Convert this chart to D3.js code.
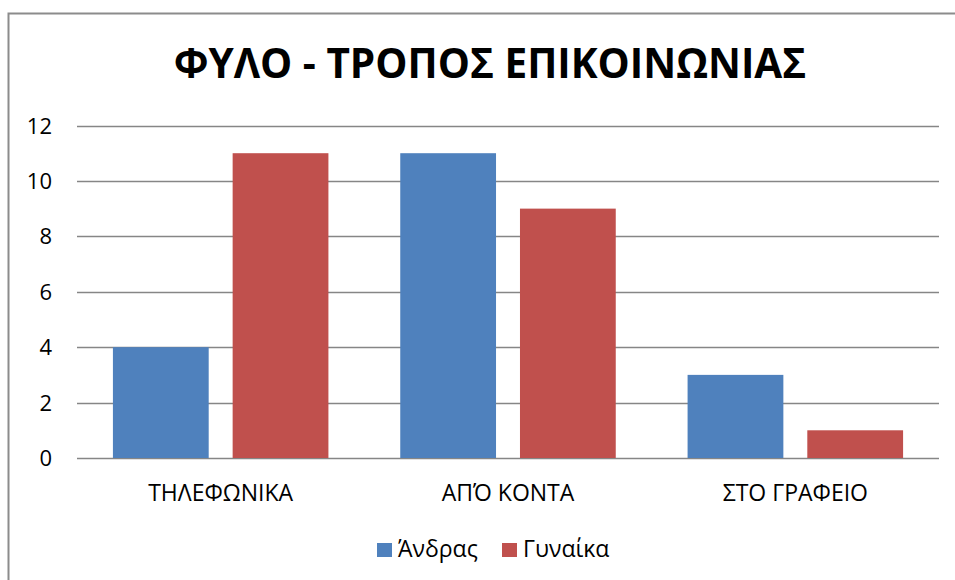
<!DOCTYPE html>
<html lang="el">
<head>
<meta charset="UTF-8">
<title>ΦΥΛΟ - ΤΡΟΠΟΣ ΕΠΙΚΟΙΝΩΝΙΑΣ</title>
<script src="https://d3js.org/d3.v7.min.js"></script>
<style>
    body { margin: 0; background: #fff; }
    svg { display: block; font-family: "Open Sans", "Noto Sans", sans-serif; }
    .grid line { stroke: #868686; stroke-width: 1.5px; }
    .tick-label { font-size: 22px; fill: #000; }
    .cat-label { font-size: 23px; fill: #000; }
    .legend-label { font-size: 23px; fill: #000; }
</style>
</head>
<body>
<svg id="chart"></svg>
<script>
    // Data
    const categories = ["ΤΗΛΕΦΩΝΙΚΑ", "ΑΠΌ ΚΟΝΤΑ", "ΣΤΟ ΓΡΑΦΕΙΟ"];
    const seriesNames = ["Άνδρας", "Γυναίκα"];
    const andras = [4, 11, 3];
    const gynaika = [11, 9, 1];
    const yTicks = [0, 2, 4, 6, 8, 10, 12];
    const colors = ["#4F81BD", "#C0504D"];
    const title = "ΦΥΛΟ - ΤΡΟΠΟΣ ΕΠΙΚΟΙΝΩΝΙΑΣ";

    const width = 955, height = 580;
    const svg = d3.select("#chart").attr("width", width).attr("height", height);

    // outer chart border (only top and left visible in the frame)
    svg.append("rect")
        .attr("x", 8.5).attr("y", 13.5)
        .attr("width", 960).attr("height", 600)
        .attr("fill", "none")
        .attr("stroke", "#8c8c8c")
        .attr("stroke-width", 2);

    const plot = { left: 77, right: 939, top: 125.5, bottom: 458 };

    const xCat = d3.scaleBand().domain(categories).range([plot.left, plot.right]).padding(0);
    const band = xCat.bandwidth();
    const x1 = d3.scaleBand()
        .domain(seriesNames)
        .range([band * 0.125, band * 0.875])
        .paddingInner(0.2);

    const y = d3.scaleLinear().domain([0, 12]).range([plot.bottom, plot.top]);

    // gridlines
    svg.append("g").attr("class", "grid")
        .selectAll("line")
        .data(yTicks)
        .join("line")
        .attr("x1", plot.left).attr("x2", plot.right)
        .attr("y1", d => Math.round(y(d)) + 0.5)
        .attr("y2", d => Math.round(y(d)) + 0.5);

    // tick labels
    svg.append("g")
        .selectAll("text")
        .data(yTicks)
        .join("text")
        .attr("class", "tick-label")
        .attr("x", 52)
        .attr("y", d => y(d) + 8)
        .attr("text-anchor", "end")
        .text(d => d);

    // bars
    const rows = categories.map((c, i) => ({ cat: c, values: [andras[i], gynaika[i]] }));
    const groups = svg.append("g")
        .selectAll("g")
        .data(rows)
        .join("g")
        .attr("transform", d => `translate(${xCat(d.cat)},0)`);

    groups.selectAll("rect")
        .data(d => d.values.map((v, j) => ({ name: seriesNames[j], value: v, j })))
        .join("rect")
        .attr("x", d => x1(d.name))
        .attr("width", x1.bandwidth())
        .attr("y", d => y(d.value))
        .attr("height", d => y(0) - y(d.value))
        .attr("fill", d => colors[d.j]);

    // category labels
    svg.append("g")
        .selectAll("text")
        .data(categories)
        .join("text")
        .attr("class", "cat-label")
        .attr("x", d => xCat(d) + band / 2)
        .attr("y", 501)
        .attr("text-anchor", "middle")
        .text(d => d);

    // title
    svg.append("text")
        .attr("x", 490)
        .attr("y", 78)
        .attr("text-anchor", "middle")
        .attr("font-size", 40.5)
        .attr("font-weight", "bold")
        .text(title);

    // legend
    const legendX = [377, 502];
    const legend = svg.append("g")
        .selectAll("g")
        .data(seriesNames)
        .join("g")
        .attr("transform", (d, i) => `translate(${legendX[i]},543)`);
    legend.append("rect")
        .attr("width", 15).attr("height", 14)
        .attr("fill", (d, i) => colors[i]);
    legend.append("text")
        .attr("class", "legend-label")
        .attr("x", 21).attr("y", 14)
        .text(d => d);
</script>
</body>
</html>
